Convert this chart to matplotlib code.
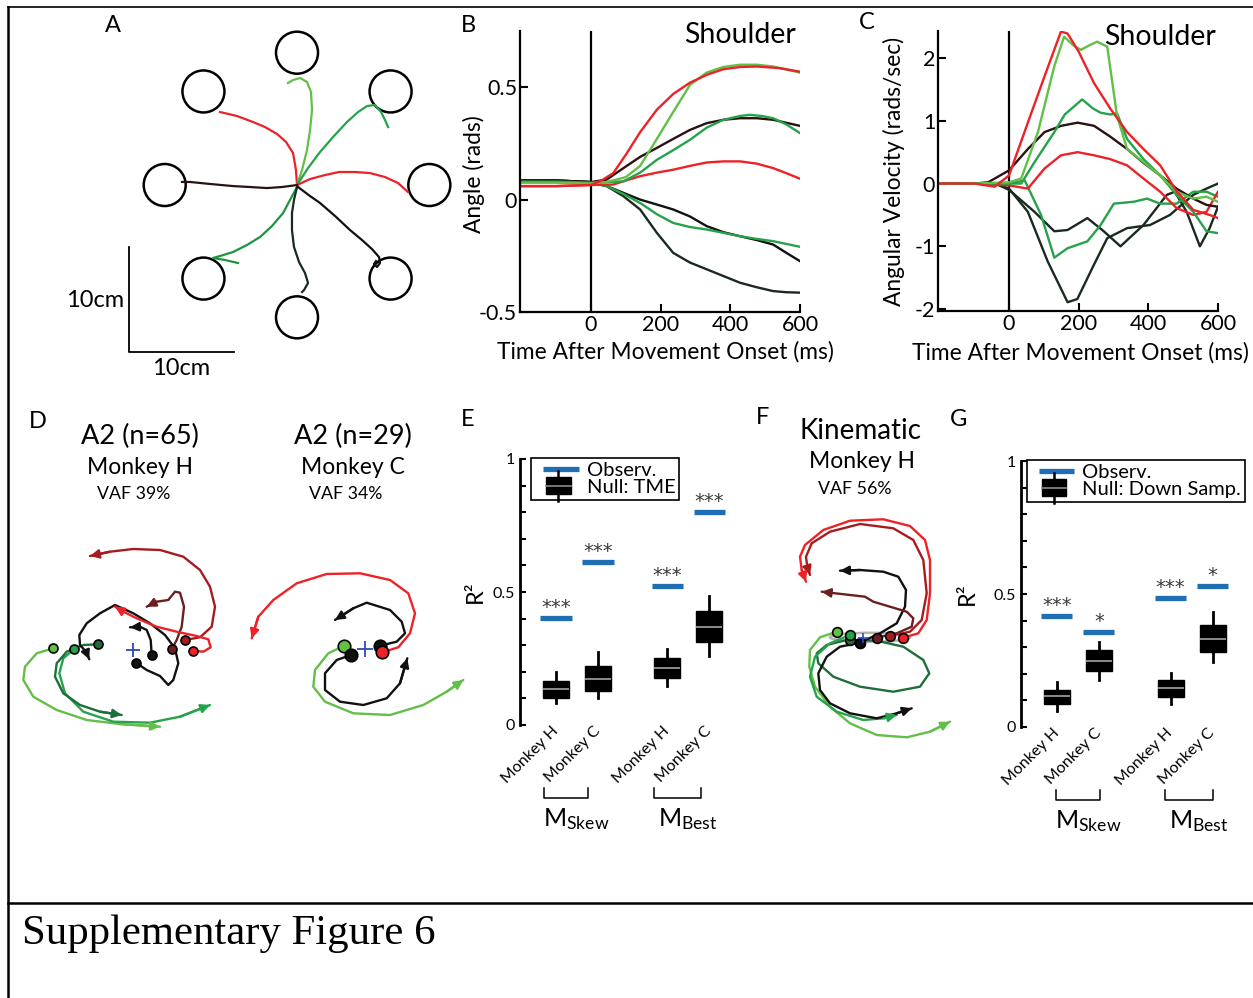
import numpy as np
import matplotlib
matplotlib.use('Agg')
import matplotlib.pyplot as plt
from matplotlib.patches import Circle, Rectangle, Ellipse
from matplotlib.lines import Line2D

plt.rcParams['font.family'] = ['Lato', 'DejaVu Sans']
plt.rcParams['mathtext.fontset'] = 'custom'
plt.rcParams['mathtext.rm'] = 'Lato'
plt.rcParams['mathtext.it'] = 'Lato:italic'

W, H = 1253, 998

# colours
RED = '#ec2227'
DKRED = '#a61c1e'
BROWN = '#6a2020'
BLK = '#111111'
BLKBR = '#2a1212'
BLKGR = '#1a2a1e'
LTGRN = '#62bf47'
MDGRN = '#26a24a'
DKGRN = '#1f6e3a'
BLUE = '#1f6db5'

# ---------------- panel A : hand paths to 8 targets (cm) ----------------
target_deg = [90, 45, 0, -45, -90, -135, 180, 135]
target_dist = 12.6
target_rad = 2.0

a_red_tl = [(0, 0), (-0.1, 1.43), (-0.38, 3.05), (-1.05, 4.1), (-1.9, 4.86), (-3.05, 5.52),
            (-4.19, 6.0), (-5.71, 6.57), (-7.33, 6.95)]
a_grn_top = [(0, 0), (0.48, 1.43), (0.95, 3.33), (1.24, 5.24), (1.43, 7.14), (1.33, 8.86),
             (0.95, 9.81), (0.29, 10.19), (-0.38, 10.0), (-0.86, 9.71)]
a_grn_tr = [(0, 0), (1.05, 1.62), (2.19, 3.14), (3.52, 4.67), (4.76, 6.0), (5.81, 6.95),
            (6.67, 7.52), (7.43, 7.62), (8.0, 6.95), (8.38, 6.19), (8.67, 5.52)]
a_red_r = [(0, 0), (1.24, 0.57), (2.67, 0.95), (4.0, 1.24), (5.52, 1.24), (6.95, 1.14),
           (8.38, 0.76), (9.62, 0.19), (10.57, -0.67)]
a_blk_l = [(0, 0), (-1.43, -0.19), (-2.86, -0.29), (-4.48, -0.19), (-6.1, -0.1), (-8.29, 0.1),
           (-10.19, 0.29), (-10.95, 0.29)]
a_grn_bl = [(0, -0.19), (-0.67, -1.43), (-1.33, -2.67), (-2.38, -3.9), (-3.52, -4.95),
            (-4.76, -5.71), (-6.1, -6.38), (-7.33, -6.76), (-8.0, -6.95), (-6.86, -7.14), (-5.62, -7.43)]
a_blk_b = [(0, -0.19), (-0.29, -1.43), (-0.48, -2.67), (-0.48, -4.29), (-0.29, -5.9), (0.19, -7.33),
           (0.76, -8.38), (1.05, -9.33), (0.67, -10.0), (0.48, -10.19)]
a_blk_br = [(0.1, -0.19), (1.24, -1.05), (2.19, -1.71), (3.62, -2.95), (5.05, -4.29), (6.19, -5.24),
            (7.14, -6.1), (7.81, -6.86), (7.9, -7.43), (7.62, -7.81), (7.33, -7.52), (7.52, -7.24)]

# ---------------- panel B : shoulder angle (rads) ----------------
b_red_hi_t = [-200, -100, 0, 30, 64, 100, 141, 189, 236, 284, 332, 380, 428, 476, 540, 600]
b_red_hi = [0.06, 0.06, 0.065, 0.085, 0.118, 0.2, 0.30, 0.40, 0.47, 0.52, 0.555, 0.58, 0.59, 0.592, 0.585, 0.569]
b_grn_hi_t = [-200, -100, 0, 45, 100, 141, 189, 236, 284, 332, 380, 428, 476, 523, 600]
b_grn_hi = [0.075, 0.075, 0.072, 0.078, 0.10, 0.15, 0.27, 0.39, 0.51, 0.565, 0.59, 0.6, 0.6, 0.592, 0.565]
b_grn_mid_t = [-200, -100, 0, 45, 93, 141, 189, 236, 284, 332, 380, 428, 456, 490, 523, 560, 600]
b_grn_mid = [0.08, 0.08, 0.075, 0.078, 0.081, 0.12, 0.177, 0.22, 0.266, 0.32, 0.355, 0.372, 0.377, 0.372, 0.362, 0.335, 0.296]
b_blk_mid_t = [-200, -100, 0, 45, 93, 141, 189, 236, 284, 332, 380, 428, 476, 523, 600]
b_blk_mid = [0.085, 0.085, 0.078, 0.089, 0.14, 0.19, 0.23, 0.27, 0.31, 0.34, 0.355, 0.362, 0.362, 0.355, 0.328]
b_red_lo_t = [-200, -100, 0, 64, 100, 141, 189, 236, 284, 332, 380, 428, 476, 523, 560, 600]
b_red_lo = [0.06, 0.06, 0.065, 0.067, 0.085, 0.104, 0.12, 0.133, 0.15, 0.165, 0.17, 0.17, 0.16, 0.14, 0.118, 0.093]
b_grn_lo_t = [-200, -100, 0, 45, 93, 141, 189, 236, 284, 332, 380, 428, 476, 523, 560, 600]
b_grn_lo = [0.08, 0.08, 0.075, 0.06, 0.025, -0.015, -0.065, -0.104, -0.122, -0.133, -0.148, -0.163, -0.175, -0.185, -0.197, -0.21]
b_blk_lo_t = [-200, -100, 0, 45, 93, 141, 189, 236, 284, 332, 380, 428, 476, 523, 561, 600]
b_blk_lo = [0.085, 0.085, 0.078, 0.06, 0.03, 0.0, -0.022, -0.044, -0.075, -0.118, -0.145, -0.163, -0.18, -0.2, -0.237, -0.274]
b_blk_bot_t = [-200, -100, 0, 45, 93, 141, 189, 236, 284, 332, 380, 428, 476, 523, 560, 600]
b_blk_bot = [0.085, 0.085, 0.078, 0.06, 0.015, -0.044, -0.148, -0.237, -0.28, -0.31, -0.34, -0.37, -0.39, -0.407, -0.412, -0.414]

# ---------------- panel C : shoulder angular velocity (rads/sec) ----------------
c_red_hi_t = [-200, -100, -41, 0, 54, 102, 149, 168, 200, 244, 290, 339, 386, 434, 481, 529, 576, 600]
c_red_hi = [0, 0, -0.05, 0.13, 0.97, 1.71, 2.42, 2.39, 2.1, 1.6, 1.2, 0.82, 0.55, 0.29, -0.12, -0.42, -0.5, -0.55]
c_grn_hi_t = [-200, -100, 0, 35, 83, 130, 158, 185, 206, 230, 253, 282, 310, 339, 386, 434, 481, 529, 567, 600]
c_grn_hi = [0, 0, 0.02, 0.08, 0.82, 1.87, 2.34, 2.2, 2.13, 2.2, 2.26, 2.18, 1.08, 0.55, 0.34, 0.13, -0.13, -0.24, -0.21, -0.29]
c_grn_mid_t = [-200, -100, 0, 35, 73, 130, 160, 210, 240, 262, 290, 310, 339, 386, 434, 481, 529, 567, 600]
c_grn_mid = [0, 0, 0.0, 0.0, 0.34, 0.82, 1.1, 1.34, 1.2, 1.13, 1.1, 1.12, 0.71, 0.39, 0.13, -0.18, -0.45, -0.76, -0.79]
c_blk_hi_t = [-200, -100, -60, 0, 54, 102, 150, 197, 244, 290, 339, 386, 434, 481, 529, 567, 600]
c_blk_hi = [0, 0, 0.02, 0.21, 0.55, 0.82, 0.92, 0.97, 0.92, 0.75, 0.55, 0.33, 0.13, -0.08, -0.24, -0.34, -0.37]
c_red_lo_t = [-200, -100, 0, 54, 102, 149, 197, 244, 290, 339, 386, 434, 481, 529, 567, 600]
c_red_lo = [0, 0, -0.03, -0.08, 0.24, 0.45, 0.5, 0.45, 0.39, 0.29, 0.08, -0.13, -0.39, -0.5, -0.45, -0.13]
c_grn_lo_t = [-200, -100, 0, 45, 92, 130, 168, 225, 263, 301, 358, 396, 434, 481, 529, 567, 600]
c_grn_lo = [0, 0, 0, 0.05, -0.5, -1.18, -1.03, -0.92, -0.66, -0.32, -0.29, -0.24, -0.32, -0.32, -0.13, -0.13, -0.21]
c_blk_lo1_t = [-200, -100, -40, 0, 73, 130, 168, 225, 272, 320, 386, 453, 476, 510, 548, 576, 600]
c_blk_lo1 = [0, 0, 0, -0.1, -0.45, -0.76, -0.74, -0.55, -0.76, -1.0, -0.66, -0.18, -0.13, -0.45, -1.0, -0.71, -0.37]
c_blk_lo2_t = [-200, -100, -40, 0, 54, 111, 168, 196, 244, 282, 339, 405, 462, 529, 567, 600]
c_blk_lo2 = [0, 0, 0, -0.08, -0.45, -1.24, -1.89, -1.84, -1.29, -0.87, -0.71, -0.66, -0.5, -0.18, -0.08, 0.0]

# ---------------- panel D : A2 population trajectories ----------------
dh_dkred = [(52, 10), (67, 12.7), (78.7, 23.3), (82, 43.3), (77, 63.3), (67, 80), (50.3, 93.3),
            (27, 100), (0.3, 101), (-23, 98.3), (-43, 94)]
dh_brown = [(38.7, 0.7), (43.7, 10), (48.7, 23.3), (51, 43.3), (47, 57.3), (42, 58.3), (35.3, 50),
            (23.7, 48.3), (13.7, 43.3)]
dh_red = [(59.7, -0.7), (70.3, -1.7), (77.7, 2.7), (75.3, 10.7), (63.7, 14), (43.7, 18.3),
          (23.7, 23.3), (3.7, 31.7), (-9.7, 38.3), (-18, 43.3)]
dh_blk1 = [(18.7, -5), (17.7, 10), (13.7, 20), (7, 23.3), (-3, 22.7)]
dh_blk2 = [(3, -12.7), (13.7, -20), (27, -26), (35.3, -35), (40.3, -30), (45.3, -13.3), (42, 1.7),
           (32, 15), (17, 26.7), (0.3, 36.7), (-18, 45), (-33, 36.7), (-46.3, 26.7), (-53.7, 15),
           (-53, 5), (-47, -1.7), (-43.7, -9.3)]
dh_dkgrn = [(-35.3, 5.7), (-49.7, 5), (-66.3, -1.7), (-76.3, -13.3), (-78, -26.7), (-69.7, -43.3),
            (-53, -55), (-33, -61.7), (-11.3, -65)]
dh_ltgrn = [(-79.7, 1.7), (-96.3, -3.3), (-108, -16.7), (-109.7, -30), (-99.7, -46.7), (-76.3, -60),
            (-46.3, -70), (-13, -74), (27, -76.7)]
dh_mdgrn = [(-59, 0.7), (-69.7, -8.3), (-73.7, -23.3), (-68, -43.3), (-49.7, -61.7), (-19.7, -71.7),
            (17, -72.7), (47, -66.7), (77, -55)]

dc_red = [(17.3, -3.3), (33.3, 1.7), (45, 15.7), (50, 35.7), (43.3, 55.7), (25, 69), (-5, 75.7),
          (-38.3, 75), (-68.3, 65.7), (-91.7, 49), (-106.7, 32.3), (-113.3, 10.7)]
dc_blk1 = [(15, 3.3), (31.7, 7.3), (40, 15.7), (36.7, 27.3), (25, 39), (1.7, 46.3), (-11.7, 40.7), (-30, 29)]
dc_blk2 = [(-14, -6), (-28.3, -11), (-40, -24.3), (-40, -41), (-25, -52.7), (-1.7, -56), (21.7, -49.3),
           (35, -34.3), (42.3, -9.3)]
dc_grn = [(-20.7, 3.3), (-36.7, -4.3), (-50, -21), (-51.7, -37.7), (-40, -52.7), (-11.7, -64.3),
          (25, -66), (58.3, -56), (81.7, -42.7), (98.3, -31)]

# ---------------- panel F : kinematic model trajectories ----------------
f_red = [(40.3, 0.3), (55.3, 4.7), (63.7, 18), (67, 44.7), (67, 78), (62, 98), (47, 112), (20.3, 118.7),
         (-13, 117.3), (-39.7, 108), (-58, 93), (-63, 81.3), (-61.3, 68), (-57, 56.3)]
f_dkred = [(27, 2), (47, 6.3), (58.7, 18), (63.7, 44.7), (60.3, 78), (50.3, 98), (30.3, 109.7), (-3, 114),
           (-33, 106.3), (-51.3, 94.7), (-57, 81.3), (-55.7, 71.3), (-53, 63)]
f_brown = [(13.7, 0.3), (33.7, 4.7), (48.7, 11.3), (50.3, 19.7), (43.7, 26.3), (27, 31.3), (10.3, 36.3),
           (2, 41.3), (-13, 43), (-33, 45.3), (-41.3, 46.3)]
f_blk_up = [(-3, -4.7), (17, 4.7), (33.7, 14.7), (42, 31.3), (43, 48), (35.3, 61.3), (20.3, 66.3),
            (-3, 68), (-23, 67.3)]
f_blk_dn = [(-3, -4.7), (-23, -8.7), (-36.3, -18.7), (-44.7, -35.3), (-43, -52), (-33, -65.3),
            (-13, -75.3), (13.7, -80.3), (33.7, -75.3), (48.7, -70.3)]
f_dkgrn = [(-13, -2), (13.7, -2.7), (40.3, -8.7), (60.3, -22), (66.3, -35.3), (57, -48.7), (30.3, -53.7),
           (-3, -48.7), (-29.7, -38.7), (-44.7, -25.3), (-46.3, -15.3), (-36.3, -7), (-16.3, -2)]
f_mdgrn = [(-13, 3), (-33, -5.3), (-48, -18.7), (-53, -38.7), (-46.3, -58.7), (-26.3, -73.7),
           (0.3, -82), (20.3, -80.3), (33.7, -77)]
f_ltgrn = [(-26.3, 6.3), (-43, 0.7), (-53, -12), (-53.7, -28.7), (-48, -48.7), (-33, -68.7),
           (-13, -85.3), (13.7, -97), (43.7, -99.3), (67, -93.7), (87, -83.7)]

# ---------------- panels E and G : R^2 box plots ----------------
group_labels = ['Monkey H', 'Monkey C', 'Monkey H', 'Monkey C']

e_whislo = [0.081, 0.10, 0.147, 0.261]
e_q1 = [0.103, 0.128, 0.178, 0.313]
e_med = [0.135, 0.172, 0.216, 0.37]
e_q3 = [0.167, 0.223, 0.253, 0.43]
e_whishi = [0.20, 0.273, 0.284, 0.485]
e_obs = [0.403, 0.614, 0.524, 0.802]
e_stars = ['***', '***', '***', '***']

g_whislo = [0.061, 0.1775, 0.086, 0.244]
g_q1 = [0.086, 0.209, 0.111, 0.281]
g_med = [0.1175, 0.249, 0.145, 0.3325]
g_q3 = [0.14, 0.29, 0.1775, 0.384]
g_whishi = [0.1675, 0.321, 0.2025, 0.431]
g_obs = [0.4175, 0.356, 0.486, 0.531]
g_stars = ['***', '*', '***', '*']


def px_axes(fig, left, top, right, bottom):
    # axes placed by its pixel box in the figure
    return fig.add_axes([left / W, 1 - bottom / H, (right - left) / W, (bottom - top) / H])


def draw_path(ax, pts, color, lw=1.7, dot=True, arrow=True, ms=7):
    pts = np.asarray(pts, dtype=float)
    ax.plot(pts[:, 0], pts[:, 1], color=color, lw=lw, solid_capstyle='round', zorder=2)
    if arrow:
        ax.annotate('', xy=pts[-1], xytext=pts[-2],
                    arrowprops=dict(arrowstyle='-|>', color=color, lw=lw, mutation_scale=13,
                                    shrinkA=0, shrinkB=0), zorder=3)
    if dot:
        ax.plot(pts[0, 0], pts[0, 1], 'o', ms=ms, mfc=color, mec='k', mew=1.2, zorder=4)


class BoxKey:
    pass


class LineKey:
    pass


class LineKeyHandler:
    def legend_artist(self, legend, orig_handle, fontsize, handlebox):
        x0, y0 = -handlebox.xdescent, -handlebox.ydescent
        w, h = handlebox.width, handlebox.height
        ln = Line2D([x0 + 0.17 * w, x0 + 0.98 * w], [y0 + 0.5 * h] * 2, color=BLUE, lw=3.8,
                    solid_capstyle='butt', transform=handlebox.get_transform())
        handlebox.add_artist(ln)
        return ln


class BoxKeyHandler:
    def legend_artist(self, legend, orig_handle, fontsize, handlebox):
        x0, y0 = -handlebox.xdescent, -handlebox.ydescent
        w, h = handlebox.width, handlebox.height
        tr = handlebox.get_transform()
        cx = x0 + 0.52 * w
        bw = 0.56 * w
        whisk = Line2D([cx, cx], [y0 - 0.55 * h, y0 + 1.55 * h], color='k', lw=1.8, transform=tr)
        box = Rectangle((cx - bw / 2, y0 - 0.1 * h), bw, 1.2 * h, facecolor='k', edgecolor='k', transform=tr)
        med = Line2D([cx - bw / 2, cx + bw / 2], [y0 + 0.5 * h] * 2, color='#8c8c8c', lw=1.2, transform=tr)
        handlebox.add_artist(whisk)
        handlebox.add_artist(box)
        handlebox.add_artist(med)
        return box


def time_axes(ax, ylim, yticks, yticklabels):
    ax.set_xlim(-204, 600)
    ax.set_ylim(*ylim)
    for s in ['top', 'right']:
        ax.spines[s].set_visible(False)
    for s in ['left', 'bottom']:
        ax.spines[s].set_linewidth(1.6)
    ax.set_xticks([0, 200, 400, 600])
    ax.set_xticklabels(['0', '200', '400', '600'])
    ax.set_yticks(yticks)
    ax.set_yticklabels(yticklabels)
    ax.tick_params(direction='in', length=6, width=1.5, labelsize=15.5, pad=2)
    ax.axvline(0, color='k', lw=1.6, zorder=1)
    ax.set_xlabel('Time After Movement Onset (ms)', fontsize=16.4)
    ax.patch.set_alpha(0)


def box_panel(ax, pos, whislo, q1, med, q3, whislhi, obs, stars, null_label, brackets, mlab, leg_x, xmax):
    stats = []
    for i in range(len(pos)):
        stats.append(dict(whislo=whislo[i], q1=q1[i], med=med[i], q3=q3[i], whishi=whislhi[i]))
    ax.bxp(stats, positions=pos, widths=0.62, patch_artist=True, showfliers=False, showcaps=False,
           boxprops=dict(facecolor='k', edgecolor='k', lw=1),
           medianprops=dict(color='#8c8c8c', lw=1.4),
           whiskerprops=dict(color='k', lw=2))
    for p, o, s in zip(pos, obs, stars):
        ax.plot([p - 0.37, p + 0.37], [o, o], color=BLUE, lw=3.8, solid_capstyle='butt')
        ax.text(p, o + 0.004, s, ha='center', va='bottom', fontsize=14, family='DejaVu Sans',
                color='#3a3a3a')
    ax.set_xlim(0.143, xmax)
    ax.set_ylim(0, 1)
    for s in ['top', 'right', 'bottom']:
        ax.spines[s].set_visible(False)
    ax.spines['left'].set_linewidth(2)
    ax.set_yticks([0, 0.5, 1])
    ax.set_yticklabels(['0', '0.5', '1'])
    ax.set_yticks(np.arange(0, 1.01, 0.1), minor=True)
    ax.tick_params(axis='y', which='both', direction='in', length=4, width=1.5, labelsize=11.5, pad=3.5)
    ax.set_xticks(pos)
    ax.set_xticklabels(group_labels, rotation=45, ha='right', va='center', rotation_mode='anchor', fontsize=11.5)
    ax.tick_params(axis='x', length=0, pad=3)
    ax.set_ylabel('R²', fontsize=17)
    ax.patch.set_alpha(0)
    tr = ax.get_xaxis_transform()
    for (x0, x1), lab in zip(brackets, mlab):
        ax.plot([x0, x0, x1, x1], [-0.235, -0.275, -0.275, -0.235], color='k', lw=1.1,
                transform=tr, clip_on=False)
        ax.text((x0 + x1) / 2 + 0.25, -0.305, lab, ha='center', va='top', fontsize=18, transform=tr)
    leg = ax.legend([LineKey(), BoxKey()], ['Observ.', null_label],
                    handler_map={LineKey: LineKeyHandler(), BoxKey: BoxKeyHandler()},
                    loc='upper left', bbox_to_anchor=(leg_x, 1.005), borderaxespad=0,
                    fontsize=14.5, handlelength=2.2, handletextpad=0.35, labelspacing=0.0,
                    borderpad=0.2, fancybox=False, framealpha=1, edgecolor='k')
    leg.get_frame().set_linewidth(1.2)


fig = plt.figure(figsize=(W / 100, H / 100), dpi=100)

# frame, labels and caption in pixel space
bg = fig.add_axes([0, 0, 1, 1])
bg.set_xlim(0, W)
bg.set_ylim(H, 0)
bg.axis('off')
bg.plot([8, W], [7, 7], color='k', lw=1.2)
bg.plot([8, 8], [7, H], color='k', lw=1.8)
bg.plot([8, W], [903, 903], color='k', lw=1.8)
bg.text(22, 934, 'Supplementary Figure 6', fontsize=30.8, family='Liberation Serif', va='center', ha='left')
for lab, x, y in [('A', 113, 25), ('B', 468, 25), ('C', 867, 22), ('D', 38, 421),
                  ('E', 468, 420), ('F', 763, 418), ('G', 959, 420)]:
    bg.text(x, y, lab, fontsize=17, ha='center', va='center')
bg.text(140, 436, 'A2 (n=65)', fontsize=19.5, ha='center', va='center')
bg.text(140, 467, 'Monkey H', fontsize=16.5, ha='center', va='center')
bg.text(134, 494, 'VAF 39%', fontsize=12.8, ha='center', va='center')
bg.text(353, 436, 'A2 (n=29)', fontsize=19.5, ha='center', va='center')
bg.text(353, 467, 'Monkey C', fontsize=16.5, ha='center', va='center')
bg.text(346, 494, 'VAF 34%', fontsize=12.8, ha='center', va='center')
bg.text(860, 431, 'Kinematic', fontsize=20, ha='center', va='center')
bg.text(862, 462, 'Monkey H', fontsize=16.5, ha='center', va='center')
bg.text(855, 489, 'VAF 56%', fontsize=12.8, ha='center', va='center')

# A: reach paths
axA = px_axes(fig, 60, 15, 460, 390)
axA.set_xlim(-22.57, 15.52)
axA.set_ylim(-19.52, 16.19)
axA.axis('off')
for d in target_deg:
    th = np.deg2rad(d)
    axA.add_patch(Circle((target_dist * np.cos(th), target_dist * np.sin(th)), target_rad,
                         fill=False, ec='k', lw=1.8))
for pts, c in [(a_red_tl, RED), (a_grn_top, LTGRN), (a_grn_tr, MDGRN), (a_red_r, RED),
               (a_blk_l, BLKBR), (a_grn_bl, '#1e9440'), (a_blk_b, BLKGR), (a_blk_br, BLK)]:
    pts = np.asarray(pts)
    axA.plot(pts[:, 0], pts[:, 1], color=c, lw=1.6)
axA.plot([-16, -16, -6], [-5.9, -15.9, -15.9], color='k', lw=1.3)
axA.text(-19.25, -10.95, '10cm', fontsize=17, ha='center', va='center')
axA.text(-11.0, -17.45, '10cm', fontsize=17, ha='center', va='center')

# B: joint angle
axB = px_axes(fig, 520, 31, 800, 312)
for t, y, c in [(b_blk_bot_t, b_blk_bot, BLKGR), (b_blk_lo_t, b_blk_lo, BLK), (b_grn_lo_t, b_grn_lo, MDGRN),
                (b_red_lo_t, b_red_lo, RED), (b_blk_mid_t, b_blk_mid, BLKBR), (b_grn_mid_t, b_grn_mid, MDGRN),
                (b_grn_hi_t, b_grn_hi, LTGRN), (b_red_hi_t, b_red_hi, RED)]:
    axB.plot(t, y, color=c, lw=1.7)
time_axes(axB, (-0.5, 0.75), [-0.5, 0, 0.5], ['-0.5', '0', '0.5'])
axB.set_ylabel('Angle (rads)', fontsize=16.4)
axB.yaxis.set_label_coords(-0.125, 0.49)
axB.xaxis.set_label_coords(0.52, -0.105)
axB.text(0.786, 0.985, 'Shoulder', transform=axB.transAxes, fontsize=20.5, ha='center', va='center')

# C: joint angular velocity
axC = px_axes(fig, 938, 31, 1218, 311)
for t, y, c in [(c_blk_lo2_t, c_blk_lo2, BLKGR), (c_blk_lo1_t, c_blk_lo1, BLKGR), (c_grn_lo_t, c_grn_lo, MDGRN),
                (c_red_lo_t, c_red_lo, RED), (c_blk_hi_t, c_blk_hi, BLKBR), (c_grn_mid_t, c_grn_mid, MDGRN),
                (c_grn_hi_t, c_grn_hi, LTGRN), (c_red_hi_t, c_red_hi, RED)]:
    axC.plot(t, y, color=c, lw=1.7)
time_axes(axC, (-2.03, 2.43), [-2, -1, 0, 1, 2], ['-2', '-1', '0', '1', '2'])
axC.set_ylabel('Angular Velocity (rads/sec)', fontsize=16.4)
axC.yaxis.set_label_coords(-0.117, 0.5)
axC.xaxis.set_label_coords(0.507, -0.11)
axC.text(0.793, 0.978, 'Shoulder', transform=axC.transAxes, fontsize=20.5, ha='center', va='center')

# D: neural population trajectories, monkey H and monkey C
axDH = px_axes(fig, 15, 520, 240, 735)
axDH.set_xlim(-118, 107)
axDH.set_ylim(-85, 130)
axDH.axis('off')
for pts, c in [(dh_ltgrn, LTGRN), (dh_mdgrn, MDGRN), (dh_dkgrn, DKGRN), (dh_blk2, BLK), (dh_blk1, BLK),
               (dh_dkred, DKRED), (dh_brown, BROWN), (dh_red, RED)]:
    draw_path(axDH, pts, c, ms=6.5)
axDH.plot(0, 0, '+', color='#3048b8', ms=10, mew=1.3)

axDC = px_axes(fig, 240, 520, 470, 735)
axDC.set_xlim(-125, 105)
axDC.set_ylim(-86, 129)
axDC.axis('off')
for pts, c in [(dc_grn, LTGRN), (dc_blk2, BLK), (dc_blk1, BLK), (dc_red, RED)]:
    draw_path(axDC, pts, c, ms=9)
axDC.plot(0, 0, '+', color='#3048b8', ms=11, mew=1.3)

# F: kinematic model trajectories
axF = px_axes(fig, 790, 500, 960, 745)
axF.set_xlim(-73, 97)
axF.set_ylim(-107, 138)
axF.axis('off')
axF.add_patch(Ellipse((7, 0.7), 80, 9, fill=False, ec='#b4b4b4', lw=1.8, zorder=1))
draw_path(axF, f_dkgrn, DKGRN, arrow=False, ms=7)
for pts, c in [(f_ltgrn, LTGRN), (f_mdgrn, MDGRN), (f_blk_dn, BLK), (f_blk_up, BLK),
               (f_brown, BROWN), (f_dkred, DKRED), (f_red, RED)]:
    draw_path(axF, pts, c, ms=7)
axF.plot(0.3, -0.3, '+', color='#3048b8', ms=7, mew=1.2, zorder=5)

# E: R^2 vs TME null
e_pos = [1, 2, 3.65, 4.65]
axE = px_axes(fig, 520, 459, 745, 725)
box_panel(axE, e_pos, e_whislo, e_q1, e_med, e_q3, e_whishi, e_obs, e_stars, 'Null: TME',
          [(0.71, 1.76), (3.33, 4.45)], [r'M$_{\mathrm{Skew}}$', r'M$_{\mathrm{Best}}$'], 0.05, 5.5)
axE.yaxis.set_label_coords(-0.15, 0.5)

# G: R^2 vs down-sampled null
g_pos = [1, 2, 3.71, 4.71]
axG = px_axes(fig, 1021, 461, 1250, 727)
box_panel(axG, g_pos, g_whislo, g_q1, g_med, g_q3, g_whishi, g_obs, g_stars, 'Null: Down Samp.',
          [(0.98, 2.02), (3.57, 4.71)], [r'M$_{\mathrm{Skew}}$', r'M$_{\mathrm{Best}}$'], 0.026, 5.6)
axG.yaxis.set_label_coords(-0.19, 0.5)

fig.savefig('out.png', dpi=100)
